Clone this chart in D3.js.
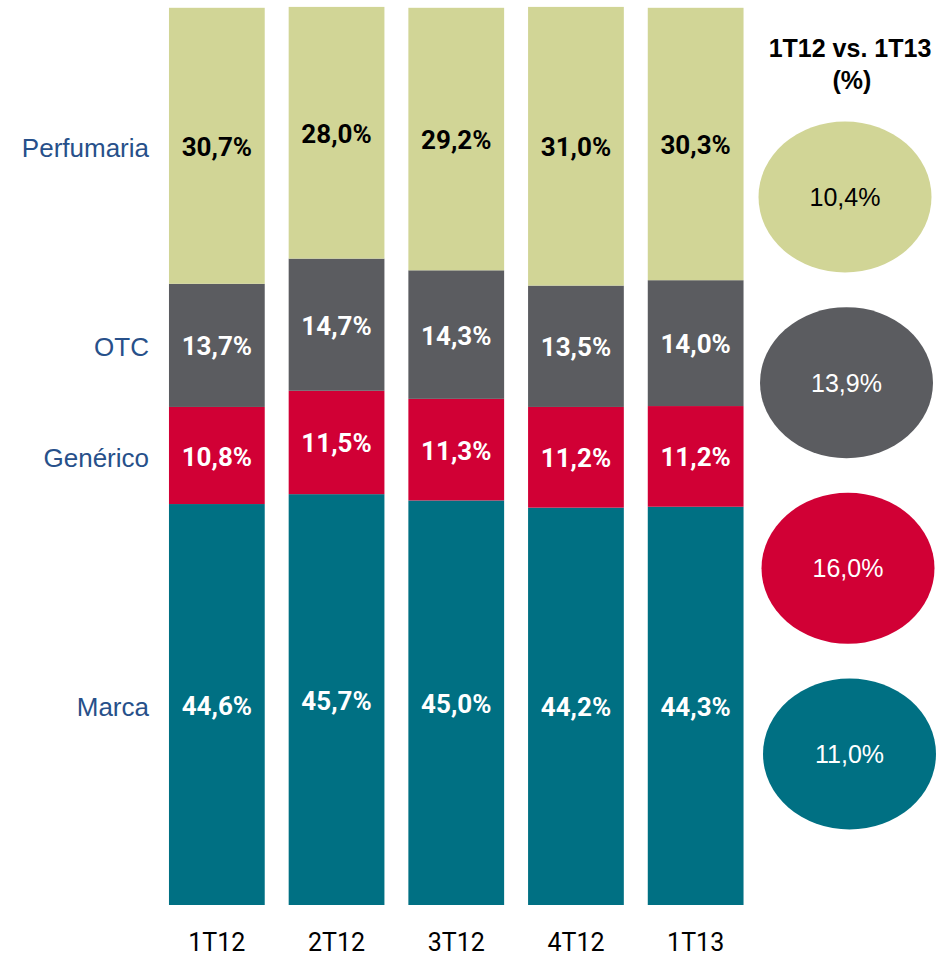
<!DOCTYPE html>
<html>
<head>
<meta charset="utf-8">
<script src="https://cdn.jsdelivr.net/npm/d3@7"></script>
<style>
  body { margin: 0; background: #fff; }
</style>
</head>
<body>
<div id="chart"></div>
<script>
const periods = ['1T12', '2T12', '3T12', '4T12', '1T13'];
// stacked bottom to top
const segments = ['Marca', 'Genérico', 'OTC', 'Perfumaria'];
const marca = [44.6, 45.7, 45.0, 44.2, 44.3];
const generico = [10.8, 11.5, 11.3, 11.2, 11.2];
const otc = [13.7, 14.7, 14.3, 13.5, 14.0];
const perfumaria = [30.7, 28.0, 29.2, 31.0, 30.3];
// growth 1T12 vs 1T13, top to bottom
const growthCategories = ['Perfumaria', 'OTC', 'Genérico', 'Marca'];
const growthValues = [10.4, 13.9, 16.0, 11.0];

const colors = {
    'Perfumaria': '#d1d596',
    'OTC': '#5b5c60',
    'Genérico': '#d10035',
    'Marca': '#007083'
};
const labelColors = {
    'Perfumaria': '#000',
    'OTC': '#fff',
    'Genérico': '#fff',
    'Marca': '#fff'
};

const width = 945;
const height = 957;
const fmt = v => v.toFixed(1).replace('.', ',') + '%';

const rows = periods.map((p, i) => ({
    period: p,
    'Marca': marca[i],
    'Genérico': generico[i],
    'OTC': otc[i],
    'Perfumaria': perfumaria[i]
}));

const svg = d3.select('#chart')
    .append('svg')
    .attr('width', width)
    .attr('height', height);

const x = d3.scaleBand()
    .domain(periods)
    .range([157, 755.5])
    .paddingInner(0.2)
    .paddingOuter(0.1);

const y = d3.scaleLinear()
    .domain([0, 100])
    .range([905, 6]);

const stacked = d3.stack().keys(segments)(rows);

const layers = svg.append('g')
    .selectAll('g')
    .data(stacked)
    .join('g')
    .attr('fill', d => colors[d.key]);

layers.selectAll('rect')
    .data(d => d)
    .join('rect')
    .attr('x', d => x(d.data.period))
    .attr('width', x.bandwidth())
    .attr('y', d => y(d[1]))
    .attr('height', d => y(d[0]) - y(d[1]));

// value labels inside the bars
stacked.forEach(layer => {
    svg.append('g')
        .selectAll('text')
        .data(layer)
        .join('text')
        .attr('x', d => x(d.data.period) + x.bandwidth() / 2)
        .attr('y', d => (y(d[0]) + y(d[1])) / 2 + 10)
        .attr('text-anchor', 'middle')
        .attr('font-family', 'Roboto, sans-serif')
        .attr('font-weight', 'bold')
        .attr('font-size', 26)
        .attr('fill', labelColors[layer.key])
        .text(d => fmt(d.data[layer.key]));
});

// category labels on the left, next to the first bar
const firstBar = stacked.map(layer => ({ key: layer.key, d: layer[0] }));
svg.append('g')
    .selectAll('text')
    .data(firstBar)
    .join('text')
    .attr('x', 149)
    .attr('y', d => (y(d.d[0]) + y(d.d[1])) / 2 + 11)
    .attr('text-anchor', 'end')
    .attr('font-family', '"Liberation Sans", Arial, sans-serif')
    .attr('font-size', 26)
    .attr('fill', '#27508a')
    .text(d => d.key);

// period axis
svg.append('g')
    .attr('transform', 'translate(0, 951)')
    .call(d3.axisBottom(x).tickSize(0).tickPadding(0))
    .call(g => g.select('.domain').remove())
    .call(g => g.selectAll('text')
        .attr('dy', 0)
        .attr('font-family', 'Roboto, sans-serif')
        .attr('font-size', 25)
        .attr('fill', '#000'));

// growth column
svg.append('text')
    .attr('x', 850)
    .attr('y', 57)
    .attr('text-anchor', 'middle')
    .attr('font-family', '"Liberation Sans", Arial, sans-serif')
    .attr('font-weight', 'bold')
    .attr('font-size', 25)
    .text('1T12 vs. 1T13');

svg.append('text')
    .attr('x', 852)
    .attr('y', 89)
    .attr('text-anchor', 'middle')
    .attr('font-family', '"Liberation Sans", Arial, sans-serif')
    .attr('font-weight', 'bold')
    .attr('font-size', 25)
    .text('(%)');

const gy = d3.scalePoint()
    .domain(growthCategories)
    .range([197, 754]);

const bubbles = svg.append('g')
    .selectAll('g')
    .data(growthCategories.map((c, i) => ({ key: c, value: growthValues[i], idx: i })))
    .join('g')
    .attr('transform', d => 'translate(' + (845 + d.idx * 1.5) + ',' + gy(d.key) + ')');

bubbles.append('ellipse')
    .attr('rx', 86.5)
    .attr('ry', 75.5)
    .attr('fill', d => colors[d.key]);

bubbles.append('text')
    .attr('y', 9)
    .attr('text-anchor', 'middle')
    .attr('font-family', '"Liberation Sans", Arial, sans-serif')
    .attr('font-size', 25)
    .attr('fill', d => labelColors[d.key])
    .text(d => fmt(d.value));
</script>
</body>
</html>
